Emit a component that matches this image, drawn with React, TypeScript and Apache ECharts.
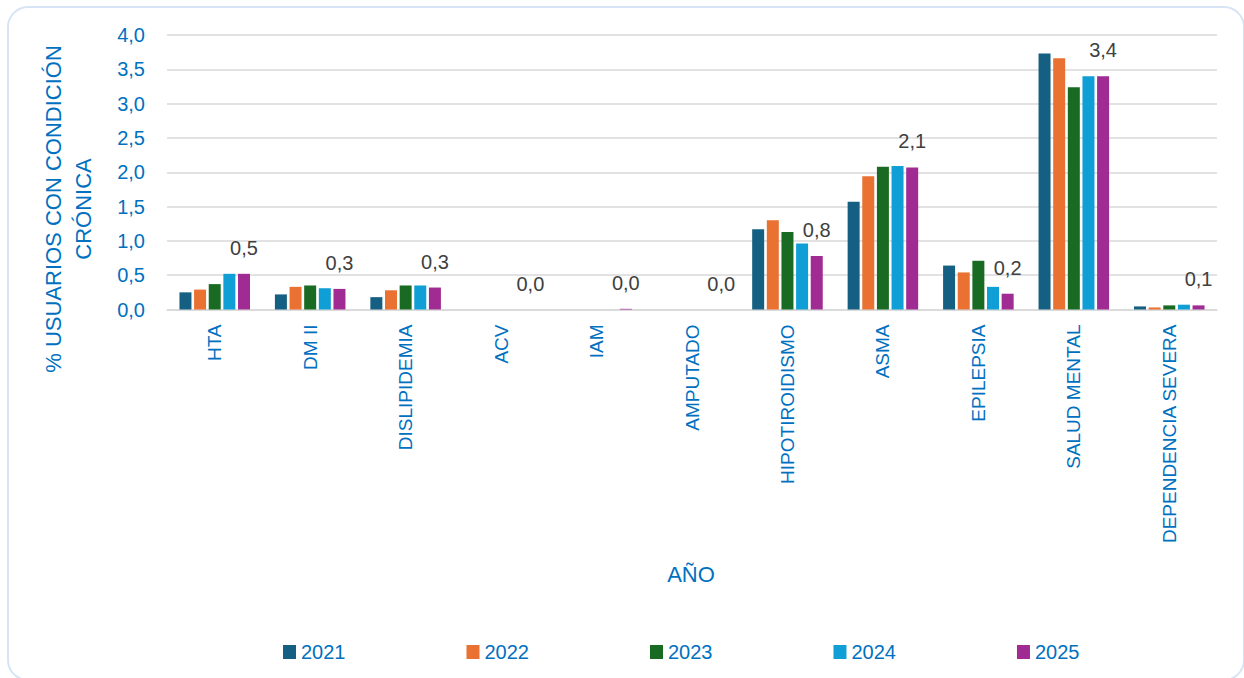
import React, { useEffect, useRef } from "react";
import * as echarts from "echarts";

const categories = ["HTA", "DM II", "DISLIPIDEMIA", "ACV", "IAM", "AMPUTADO", "HIPOTIROIDISMO", "ASMA", "EPILEPSIA", "SALUD MENTAL", "DEPENDENCIA SEVERA"];
const years = ["2021", "2022", "2023", "2024", "2025"];
const v2021 = [0.25, 0.22, 0.18, 0, 0, 0, 1.17, 1.57, 0.64, 3.73, 0.045];
const v2022 = [0.29, 0.33, 0.28, 0, 0, 0, 1.3, 1.94, 0.54, 3.66, 0.03];
const v2023 = [0.37, 0.35, 0.35, 0, 0, 0, 1.13, 2.08, 0.71, 3.24, 0.06];
const v2024 = [0.52, 0.31, 0.35, 0, 0, 0, 0.96, 2.09, 0.33, 3.4, 0.07];
const v2025 = [0.52, 0.3, 0.32, 0, 0.01, 0, 0.78, 2.07, 0.23, 3.4, 0.06];
const yTicks = { min: 0, max: 4, interval: 0.5 };
const yTitle = "% USUARIOS CON CONDICIÓN\nCRÓNICA";
const xTitle = "AÑO";

const colors = ["#156082", "#E97132", "#196B24", "#0F9ED5", "#A02B93"];
const blue = "#0070C0";
const FONT = "'Liberation Sans', Arial, sans-serif";
const fmt = (v: number) => v.toFixed(1).replace(".", ",");

export default function App() {
  const ref = useRef<HTMLDivElement>(null);
  useEffect(() => {
    if (!ref.current) return;
    const chart = echarts.init(ref.current, null, { renderer: "svg" });
    const all = [v2021, v2022, v2023, v2024, v2025];
    chart.setOption({
      animation: false,
      backgroundColor: "#ffffff",
      textStyle: { fontFamily: FONT },
      grid: { left: 167, right: 27, top: 35, bottom: 368.5, containLabel: false },
      legend: {
        left: 278,
        top: 637,
        itemWidth: 13,
        itemHeight: 14,
        itemGap: 121,
        icon: "rect",
        textStyle: { color: blue, fontSize: 20, fontFamily: FONT },
        data: years,
      },
      xAxis: {
        type: "category",
        data: categories,
        axisLine: { show: true, lineStyle: { color: "#d9d9d9", width: 1.5 } },
        axisTick: { show: false },
        axisLabel: { rotate: 90, margin: 15, color: blue, fontSize: 19, fontFamily: FONT, interval: 0 },
      },
      yAxis: {
        type: "value",
        min: yTicks.min,
        max: yTicks.max,
        interval: yTicks.interval,
        axisLine: { show: false },
        axisTick: { show: false },
        splitLine: { lineStyle: { color: "#d9d9d9", width: 1.5 } },
        axisLabel: { color: blue, fontSize: 20, margin: 22, fontFamily: FONT, formatter: (v: number) => fmt(v) },
      },
      series: years.map((y, i) => ({
        name: y,
        type: "bar",
        data: all[i],
        barWidth: 12,
        barGap: "22%",
        itemStyle: { color: colors[i] },
        label:
          i === 4
            ? {
                show: true,
                position: "top",
                distance: 16,
                color: "#404040",
                fontSize: 20,
                fontFamily: FONT,
                formatter: (p: any) => fmt(p.value),
              }
            : { show: false },
      })),
      graphic: [
        {
          type: "rect",
          silent: true,
          shape: { x: 8, y: 7, width: 1236, height: 673, r: 20 },
          style: { fill: "none", stroke: "#d6e4f5", lineWidth: 2 },
          z: -1,
        },
        {
          type: "text",
          x: 68,
          y: 209,
          rotation: Math.PI / 2,
          style: {
            text: yTitle,
            fill: blue,
            font: `22px ${FONT}`,
            textAlign: "center",
            textVerticalAlign: "middle",
            lineHeight: 30,
          },
        },
        {
          type: "text",
          x: 691,
          y: 574,
          style: {
            text: xTitle,
            fill: blue,
            font: `22px ${FONT}`,
            textAlign: "center",
            textVerticalAlign: "middle",
          },
        },
      ],
    });
    return () => chart.dispose();
  }, []);
  return <div ref={ref} style={{ position: "absolute", left: 0, top: 0, width: 1244, height: 678 }} />;
}
